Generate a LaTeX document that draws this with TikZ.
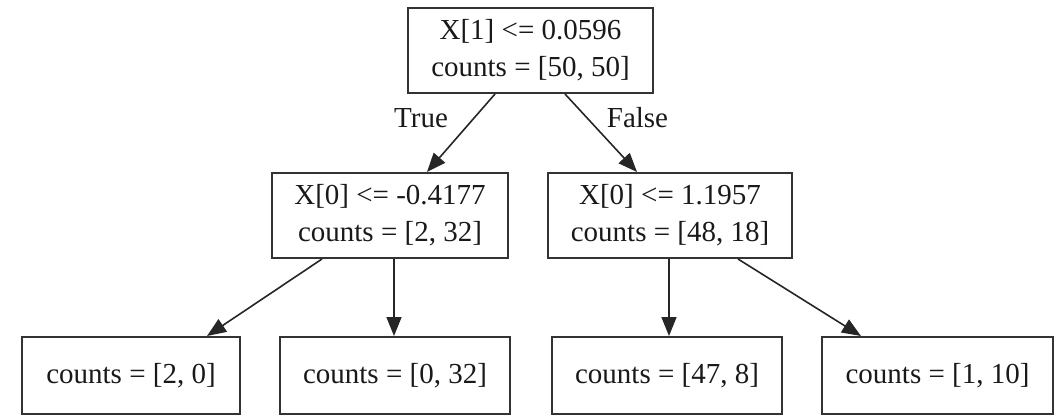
\documentclass[tikz,border=0pt]{standalone}
\usepackage{fontspec}
\setmainfont{Liberation Serif}
\usetikzlibrary{arrows.meta}
\begin{document}
\begin{tikzpicture}[x=1pt,y=-1pt,
  treebox/.style={draw=black!80, line width=2pt, inner sep=0pt, align=center,
    font=\fontsize{29}{37}\selectfont, text=black!90},
  edge/.style={draw=black!85, line width=1.6pt, -{Triangle[length=19pt,width=15pt]}},
  elabel/.style={font=\fontsize{29}{35}\selectfont, text=black!90, anchor=base}]
\useasboundingbox (0,0) rectangle (1061,416);
\node[treebox, minimum width=245pt, minimum height=85pt] (root) at (530.5,50.5) {X[1] <= 0.0596\\counts = [50, 50]};
\node[treebox, minimum width=236pt, minimum height=85pt] (l) at (390,215.5) {X[0] <= -0.4177\\counts = [2, 32]};
\node[treebox, minimum width=244pt, minimum height=85pt] (r) at (670,215.5) {X[0] <= 1.1957\\counts = [48, 18]};
\node[treebox, minimum width=218pt, minimum height=77pt] (ll) at (131,375.5) {counts = [2, 0]};
\node[treebox, minimum width=230pt, minimum height=77pt] (lr) at (395,375.5) {counts = [0, 32]};
\node[treebox, minimum width=230pt, minimum height=77pt] (rl) at (667,375.5) {counts = [47, 8]};
\node[treebox, minimum width=231pt, minimum height=77pt] (rr) at (937.5,375.5) {counts = [1, 10]};
\draw[edge] ([xshift=-35.5pt]root.south) -- ([xshift=37pt]l.north);
\draw[edge] ([xshift=34.5pt]root.south) -- ([xshift=-33pt]r.north);
\draw[edge] ([xshift=-68pt]l.south) -- ([xshift=76pt]ll.north);
\draw[edge] ([xshift=4pt]l.south) -- ([xshift=-1pt]lr.north);
\draw[edge] ([xshift=-1pt]r.south) -- ([xshift=2pt]rl.north);
\draw[edge] ([xshift=68pt]r.south) -- ([xshift=-76.5pt]rr.north);
\node[elabel] (t) at (421,127) {True};
\node[elabel] (f) at (637.5,127) {False};
\end{tikzpicture}
\end{document}
